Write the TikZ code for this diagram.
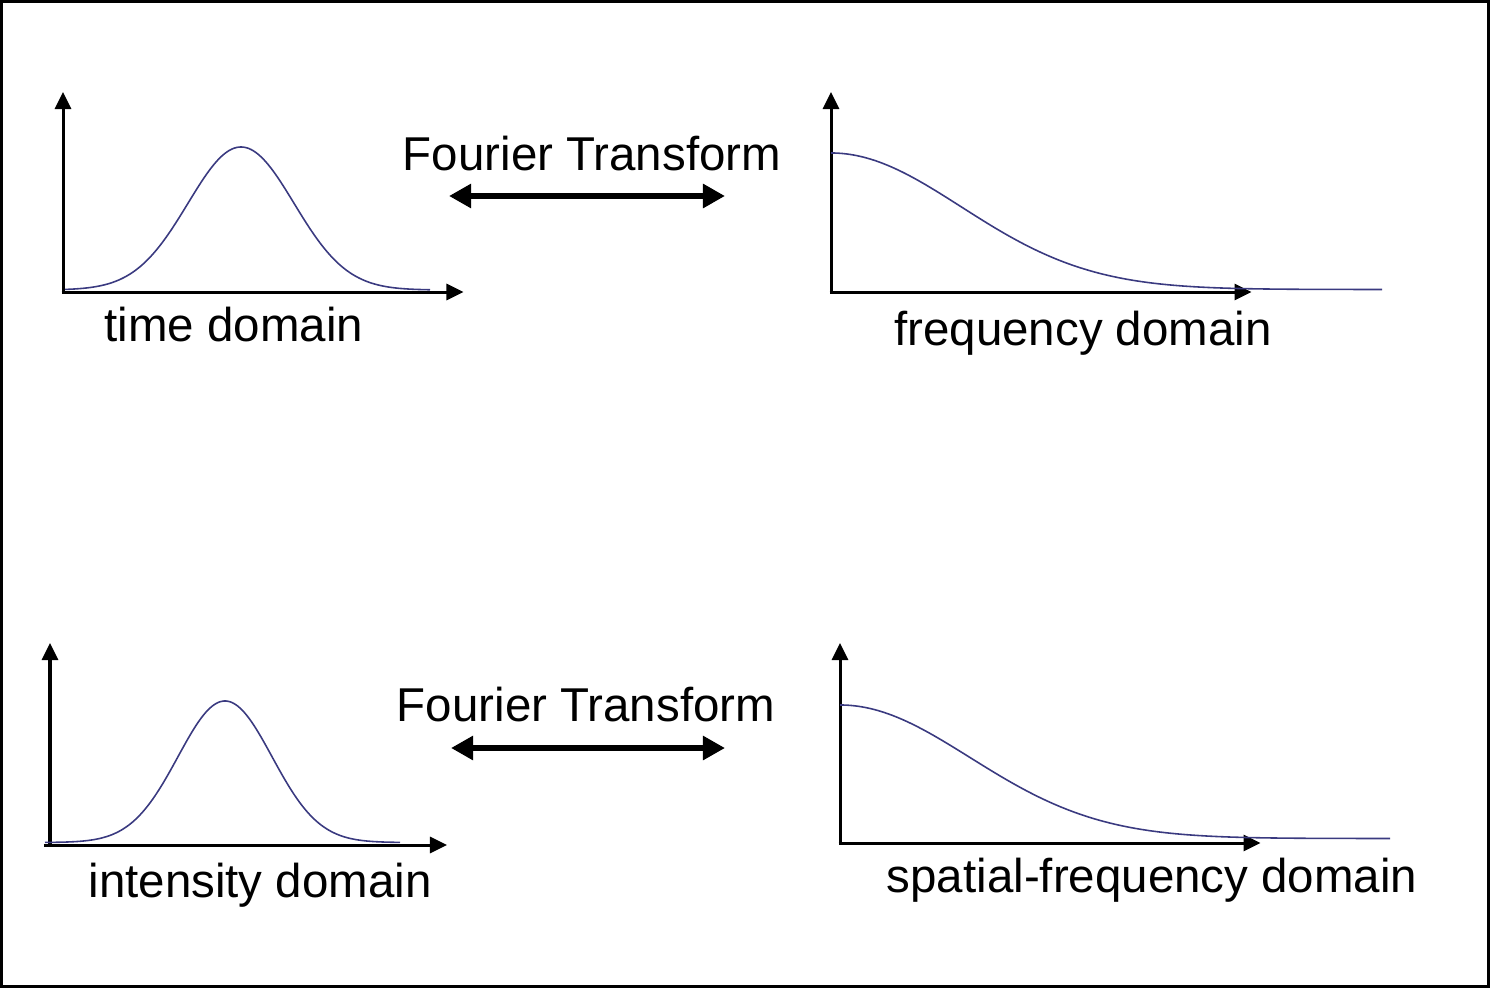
\documentclass[tikz,border=0pt]{standalone}
\usepackage{fontspec}
\setmainfont{Liberation Sans}
\usetikzlibrary{arrows.meta}
\definecolor{ft@curve}{RGB}{58,58,128}
\definecolor{ft@frame}{RGB}{0,0,0}

\begin{document}
\begin{tikzpicture}[x=0.01cm, y=-0.01cm,
  axis/.style  = {-{Triangle[length=0.17cm, width=0.16cm]}, line width=0.03cm, black},
  curve/.style = {ft@curve, line width=0.45pt, smooth, samples=150},
  ft/.style    = {{Triangle[length=0.22cm, width=0.23cm]}-{Triangle[length=0.22cm, width=0.23cm]},
                  line width=0.06cm, black},
  lbl/.style   = {font=\fontsize{13.5}{16}\selectfont, anchor=base, inner sep=0pt},
]
  \useasboundingbox (0,0) rectangle (1491,988);
  \draw[ft@frame, line width=0.03cm] (1.5,1.5) rectangle (1488.5,986.5);

  % origins of the four plots
  \coordinate (o1) at (63,292);
  \coordinate (o2) at (831,292);
  \coordinate (o3) at (50,845);
  \coordinate (o4) at (840,843);

  % axes
  \draw[axis] (o1) -- ++(0,-200);
  \draw[axis] ([xshift=-0.015cm]o1) -- ++(402,0);
  \draw[axis] (o2) -- ++(0,-200);
  \draw[axis] ([xshift=-0.015cm]o2) -- ++(422,0);
  \draw[axis] (o3) -- ++(0,-202);
  \draw[axis] ([xshift=-0.06cm]o3) -- ++(403,0);
  \draw[axis] (o4) -- ++(0,-200);
  \draw[axis] ([xshift=-0.015cm]o4) -- ++(422,0);

  % curves
  \draw[curve] plot[domain=65:430]  (\x, {290-143*exp(-((\x-241)/53)^2/2)});
  \draw[curve] plot[domain=0:551]   ({831+\x}, {289.5-136.5*exp(-(\x/130)^2/2)});
  \draw[curve] plot[domain=45:400]  (\x, {842.5-141.5*exp(-((\x-225)/47)^2/2)});
  \draw[curve] plot[domain=0:550]   ({840+\x}, {838.5-133.5*exp(-(\x/130)^2/2)});

  % transforms
  \coordinate (ftTopL) at (449,196);
  \coordinate (ftTopR) at (725,196);
  \coordinate (ftBotL) at (451,748);
  \coordinate (ftBotR) at (725,748);
  \draw[ft] (ftTopL) -- (ftTopR);
  \draw[ft] (ftBotL) -- (ftBotR);
  \node[lbl] (ftTop) at (592,171) {Fourier Transform};
  \node[lbl] (ftBot) at (586,721) {Fourier Transform};

  % domain labels
  \node[lbl] (lblTime) at (234,341)  {time domain};
  \node[lbl] (lblFreq) at (1083,345) {frequency domain};
  \node[lbl] (lblInt)  at (260,897)  {intensity domain};
  \node[lbl] (lblSpat) at (1152,892) {spatial-frequency domain};
\end{tikzpicture}
\end{document}
